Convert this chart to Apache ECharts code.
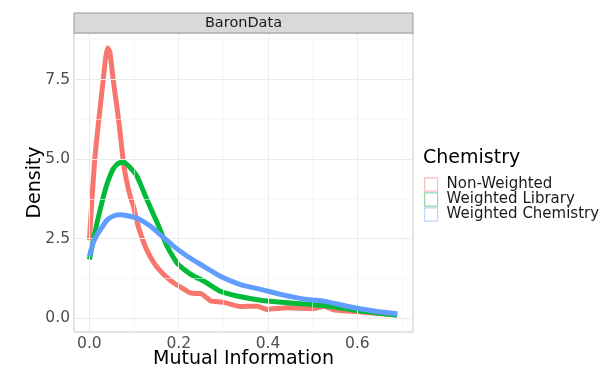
<!DOCTYPE html>
<html>
<head>
<meta charset="utf-8">
<script src="https://cdn.jsdelivr.net/npm/echarts@6/dist/echarts.min.js"></script>
<style>html,body{margin:0;padding:0;background:#fff}#c{width:600px;height:368px}</style>
</head>
<body>
<div id="c"></div>
<script>
// ---- data ----
var seriesNames = ['Non-Weighted', 'Weighted Library', 'Weighted Chemistry'];
var nonWeightedX = [0, 0.006, 0.012, 0.02, 0.031, 0.036, 0.041, 0.046, 0.054, 0.062, 0.069, 0.077, 0.085, 0.092, 0.099, 0.107, 0.118, 0.13, 0.144, 0.158, 0.174, 0.19, 0.204, 0.226, 0.24, 0.249, 0.262, 0.271, 0.301, 0.338, 0.376, 0.398, 0.443, 0.502, 0.525, 0.547, 0.607, 0.65, 0.689];
var nonWeightedY = [2.45, 3.8, 5.0, 6.1, 7.5, 8.15, 8.5, 8.35, 7.4, 6.6, 5.8, 4.8, 4.2, 3.8, 3.5, 3.0, 2.52, 2.1, 1.75, 1.5, 1.28, 1.1, 0.98, 0.8, 0.78, 0.78, 0.65, 0.55, 0.5, 0.37, 0.38, 0.28, 0.33, 0.3, 0.38, 0.27, 0.2, 0.15, 0.1];
var libraryX = [0, 0.008, 0.017, 0.03, 0.04, 0.054, 0.065, 0.077, 0.09, 0.107, 0.129, 0.152, 0.174, 0.196, 0.215, 0.234, 0.256, 0.275, 0.293, 0.331, 0.383, 0.443, 0.517, 0.56, 0.607, 0.65, 0.689];
var libraryY = [1.85, 2.4, 3.0, 3.75, 4.24, 4.71, 4.87, 4.9, 4.75, 4.45, 3.72, 2.99, 2.26, 1.74, 1.5, 1.32, 1.17, 1.0, 0.85, 0.7, 0.57, 0.49, 0.41, 0.33, 0.23, 0.16, 0.1];
var chemistryX = [0, 0.008, 0.017, 0.03, 0.04, 0.055, 0.069, 0.085, 0.107, 0.137, 0.159, 0.189, 0.219, 0.249, 0.293, 0.338, 0.383, 0.428, 0.487, 0.525, 0.577, 0.637, 0.689];
var chemistryY = [1.95, 2.35, 2.62, 2.9, 3.09, 3.22, 3.25, 3.22, 3.14, 2.89, 2.62, 2.26, 1.95, 1.69, 1.32, 1.06, 0.91, 0.75, 0.59, 0.54, 0.38, 0.23, 0.14];
var xTicks = [0, 0.2, 0.4, 0.6];
var xMinor = [0.1, 0.3, 0.5, 0.7];
var yTicks = [0, 2.5, 5.0, 7.5];
var yMinor = [1.25, 3.75, 6.25, 8.75];
var stripLabel = 'BaronData';
var legendTitle = 'Chemistry';

var colors = ['#F8766D', '#00BA38', '#619CFF'];
var keyColors = ['#F9BDB8', '#8FD9A5', '#BCD4FF'];
function pairs(xs, ys) { return xs.map(function (x, i) { return [x, ys[i]]; }); }
var FONT = 'DejaVu Sans';

var gridLines = [];
xTicks.forEach(function (v) { gridLines.push({ xAxis: v, lineStyle: { color: '#EBEBEB', width: 1, type: 'solid' } }); });
xMinor.forEach(function (v) { gridLines.push({ xAxis: v, lineStyle: { color: '#F4F4F4', width: 0.6, type: 'solid' } }); });
yTicks.forEach(function (v) { gridLines.push({ yAxis: v, lineStyle: { color: '#EBEBEB', width: 1, type: 'solid' } }); });
yMinor.forEach(function (v) { gridLines.push({ yAxis: v, lineStyle: { color: '#F4F4F4', width: 0.6, type: 'solid' } }); });

var chart = echarts.init(document.getElementById('c'), null, { renderer: 'canvas' });
var datasets = [pairs(nonWeightedX, nonWeightedY), pairs(libraryX, libraryY), pairs(chemistryX, chemistryY)];
var series = [{
  name: '_grid', type: 'line', data: [[0, 0]], symbol: 'none', silent: true, z: 1,
  lineStyle: { opacity: 0 },
  markLine: { silent: true, symbol: 'none', label: { show: false }, animation: false, lineStyle: { type: 'solid' }, data: gridLines }
}];
datasets.forEach(function (d, i) {
  series.push({
    name: seriesNames[i], type: 'line', data: d, smooth: 0.15, symbol: 'none', z: 3 + i,
    lineStyle: { color: colors[i], width: 5, cap: 'butt', join: 'round' },
    itemStyle: { color: colors[i] }
  });
});

chart.setOption({
  animation: false,
  grid: { left: 74, right: 187, top: 33, bottom: 36, outerBoundsMode: 'none', containLabel: false, show: true, borderColor: '#C8C8C8', borderWidth: 1, backgroundColor: '#fff' },
  xAxis: {
    type: 'value', min: -0.0345, max: 0.7245,
    name: 'Mutual Information', nameLocation: 'middle', nameGap: 18, nameMoveOverlap: false,
    nameTextStyle: { fontFamily: FONT, fontSize: 19, color: '#000' },
    axisLine: { show: false },
    axisTick: { show: true, length: 3, lineStyle: { color: '#999' }, customValues: xTicks },
    axisLabel: { customValues: xTicks, fontFamily: FONT, fontSize: 15.5, color: '#4D4D4D', margin: 4, formatter: function (v) { return v.toFixed(1); } },
    splitLine: { show: false }
  },
  yAxis: {
    type: 'value', min: -0.43, max: 8.96,
    name: 'Density', nameLocation: 'middle', nameGap: 29, nameRotate: 90, nameMoveOverlap: false,
    nameTextStyle: { fontFamily: FONT, fontSize: 19, color: '#000' },
    axisLine: { show: false },
    axisTick: { show: true, length: 3, lineStyle: { color: '#999' }, customValues: yTicks },
    axisLabel: { customValues: yTicks, fontFamily: FONT, fontSize: 15.5, color: '#4D4D4D', margin: 4, formatter: function (v) { return v.toFixed(1); } },
    splitLine: { show: false }
  },
  legend: {
    orient: 'vertical', left: 424, top: 177, itemGap: 0, itemWidth: 13, itemHeight: 13.3,
    icon: 'rect', selectedMode: false,
    textStyle: { fontFamily: FONT, fontSize: 15, color: '#1A1A1A', lineHeight: 13.3, padding: [0, 0, 0, 4] },
    padding: 0,
    data: seriesNames.map(function (n, i) {
      return { name: n, icon: 'rect', itemStyle: { color: '#fff', borderColor: keyColors[i], borderWidth: 1.2 }, lineStyle: { opacity: 0 } };
    })
  },
  graphic: [
    { type: 'rect', shape: { x: 74, y: 13, width: 339, height: 20 }, style: { fill: '#D9D9D9', stroke: '#9A9A9A', lineWidth: 1 }, z: 10 },
    { type: 'text', x: 243.5, y: 23, style: { text: stripLabel, fontFamily: FONT, fontSize: 14.5, fill: '#1A1A1A', align: 'center', verticalAlign: 'middle' }, z: 11 },
    { type: 'text', x: 423, y: 158, style: { text: legendTitle, fontFamily: FONT, fontSize: 19, fill: '#000', align: 'left', verticalAlign: 'middle' }, z: 11 }
  ],
  series: series
});
</script>
</body>
</html>
